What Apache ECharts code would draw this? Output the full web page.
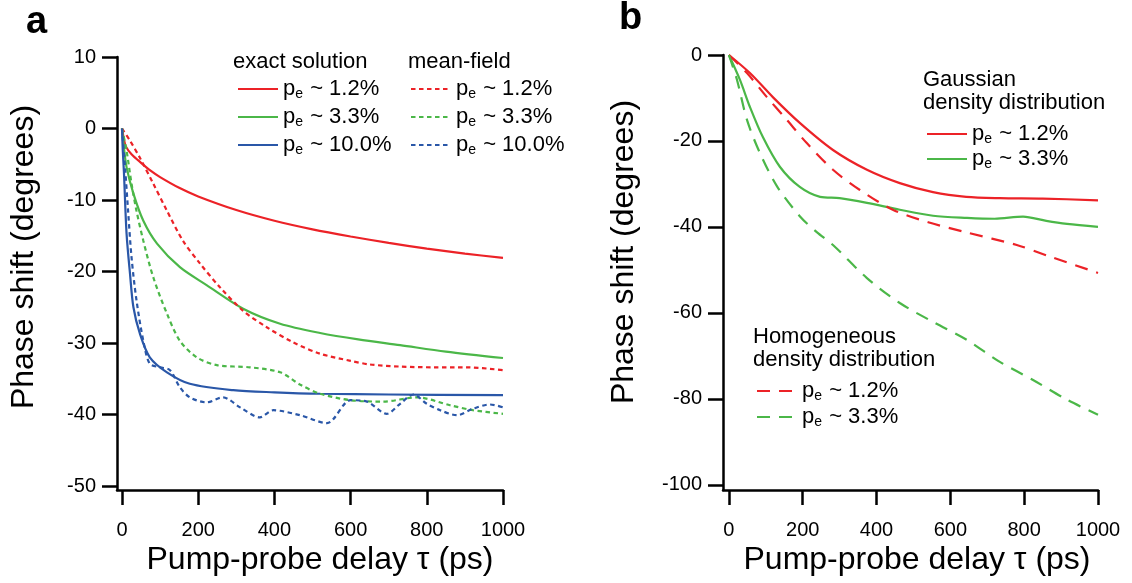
<!DOCTYPE html>
<html><head><meta charset="utf-8">
<script src="https://cdn.jsdelivr.net/npm/echarts@6/dist/echarts.min.js"></script>
<style>html,body{margin:0;padding:0;background:#fff}#c{width:1132px;height:583px}</style>
</head><body><div id="c"></div>
<script>
// ---- Panel a data (x in ps, y in degrees) ----
const aExact12X = [0, 5, 10, 25, 50, 75, 100, 150, 200, 300, 400, 500, 600, 700, 800, 900, 1000];
const aExact12Y = [0, -1.5, -2.5, -3.6, -4.8, -5.9, -6.8, -8.3, -9.5, -11.4, -12.9, -14.1, -15.1, -16.0, -16.8, -17.5, -18.1];
const aExact33X = [0, 3, 12, 30, 56, 92, 152, 222, 318, 415, 520, 620, 730, 850, 1000];
const aExact33Y = [0, -1.7, -5.4, -9.1, -12.9, -16.1, -19.4, -21.9, -25.2, -27.3, -28.6, -29.5, -30.3, -31.2, -32.1];
const aExact100X = [0, 2, 5, 12, 21, 30, 47, 73, 118, 178, 292, 400, 520, 700, 1000];
const aExact100Y = [0, -3, -6, -14.7, -20.3, -25, -28.7, -32, -34.1, -35.7, -36.6, -36.9, -37.1, -37.2, -37.3];
const aMF12X = [0, 21, 47, 82, 118, 160, 205, 257, 318, 380, 449, 520, 600, 650, 730, 820, 905, 1000];
const aMF12Y = [0, -1.7, -4.1, -7.7, -11.5, -15.7, -18.9, -22.2, -25.5, -27.8, -29.9, -31.5, -32.5, -33.0, -33.3, -33.4, -33.4, -33.8];
const aMF33X = [0, 12, 25, 38, 56, 82, 118, 152, 196, 249, 336, 415, 467, 520, 600, 685, 774, 861, 921, 1000];
const aMF33Y = [0, -3.1, -7.7, -11.5, -15.7, -20.8, -25.9, -29.7, -32, -33.1, -33.4, -34.1, -35.8, -37.1, -38, -38.2, -37.6, -38.7, -39.4, -39.9];
const aMF100X = [0, 8, 16, 25, 38, 56, 73, 100, 126, 152, 178, 222, 265, 310, 362, 397, 467, 538, 600, 643, 695, 730, 765, 800, 835, 879, 921, 966, 1000];
const aMF100Y = [0, -5.4, -11.5, -18, -24, -29.7, -32.9, -33.4, -33.8, -36.2, -37.6, -38.3, -37.6, -39, -40.4, -39.4, -40.1, -41.2, -38, -38.2, -39.9, -38.5, -37.2, -38.5, -39.4, -40.1, -39.2, -38.6, -39.0];

// ---- Panel b data ----
const bGauss12X = [0, 57, 119, 192, 282, 374, 463, 553, 643, 734, 850, 1000];
const bGauss12Y = [0, -4.2, -9.8, -15.8, -22.1, -26.7, -29.8, -31.9, -33.0, -33.3, -33.4, -33.8];
const bGauss33X = [0, 30, 57, 92, 138, 192, 247, 300, 374, 463, 553, 645, 720, 797, 860, 916, 1000];
const bGauss33Y = [0, -5.8, -12.1, -19.1, -26, -30.7, -33, -33.3, -34.4, -36, -37.4, -37.9, -38.1, -37.6, -38.6, -39.3, -40];
const bHomo12X = [0, 49, 103, 157, 211, 282, 355, 444, 540, 645, 780, 870, 1000];
const bHomo12Y = [0, -4.2, -9.8, -15.1, -20.5, -26.7, -31.4, -36, -38.9, -41.3, -44.2, -46.9, -50.7];
const bHomo33X = [0, 22, 49, 84, 130, 192, 238, 282, 374, 463, 553, 645, 734, 824, 916, 1000];
const bHomo33Y = [0, -5.8, -15.1, -22.8, -30.5, -37.5, -41.2, -44.2, -51.9, -57.7, -62.1, -66.3, -71.4, -75.6, -80.2, -83.7];

// ---- ticks / labels ----
const xTicks = [0, 200, 400, 600, 800, 1000];
const aYTicks = [10, 0, -10, -20, -30, -40, -50];
const bYTicks = [0, -20, -40, -60, -80, -100];
const legendLabels = {
  ex12: '1.2%', ex33: '3.3%', ex100: '10.0%',
  mf12: '1.2%', mf33: '3.3%', mf100: '10.0%',
  g12: '1.2%', g33: '3.3%', h12: '1.2%', h33: '3.3%'
};
const xName = 'Pump-probe delay \u03C4 (ps)';
const yName = 'Phase shift (degrees)';

const RED = '#ec2227', GREEN = '#4bb748', BLUE = '#2a57a8';
const FONT = 'Liberation Sans, Arial, Helvetica, sans-serif';
const zip = (xs, ys) => xs.map((x, i) => [x, ys[i]]);

function xAxisDef(gi, min) {
  return {
    gridIndex: gi, type: 'value', min: min, max: 1000,
    axisLine: { show: true, onZero: false, lineStyle: { color: '#000', width: 2.5 } },
    axisTick: { show: true, length: 15, inside: false, customValues: xTicks, lineStyle: { color: '#000', width: 2.5 } },
    axisLabel: { customValues: xTicks, margin: 30, fontSize: 20, color: '#000', fontFamily: FONT, formatter: v => String(v) },
    splitLine: { show: false }
  };
}
function yAxisDef(gi, min, max, ticks) {
  return {
    gridIndex: gi, type: 'value', min: min, max: max,
    axisLine: { show: true, onZero: false, lineStyle: { color: '#000', width: 2.5 } },
    axisTick: { show: true, length: 15, customValues: ticks, lineStyle: { color: '#000', width: 2.5 } },
    axisLabel: { customValues: ticks, margin: 21, fontSize: 20, color: '#000', fontFamily: FONT, formatter: v => String(v) },
    splitLine: { show: false }
  };
}
function ser(name, xi, xs, ys, color, dash) {
  return {
    name: name, type: 'line', xAxisIndex: xi, yAxisIndex: xi,
    data: zip(xs, ys), smooth: 0.3, symbol: 'none', showSymbol: false,
    lineStyle: { color: color, width: 2.2, type: dash || 'solid' },
    itemStyle: { color: color }, silent: true
  };
}
const richSub = (lh) => ({
  p: { fontSize: 22, lineHeight: lh, verticalAlign: 'middle', color: '#000', fontFamily: FONT },
  e: { fontSize: 14, lineHeight: lh, verticalAlign: 'bottom', color: '#000', fontFamily: FONT, padding: [0, 1, 0, 0] },
  t: { fontSize: 22, lineHeight: lh, verticalAlign: 'middle', color: '#000', fontFamily: FONT }
});
function legendDef(names, left, top, gap) {
  return {
    data: names, left: left, top: top, orient: 'vertical', padding: 0,
    itemWidth: 40, itemHeight: 14, itemGap: gap, selectedMode: false,
    itemStyle: { opacity: 0 },
    formatter: n => '{p|p}{e|e}{t| ~ ' + legendLabels[n] + '}',
    textStyle: { rich: richSub(24) }
  };
}
const DOT = [4.5, 3.5], DASH = [13, 9];
const T = (x, y, text, size) => ({ type: 'text', x: x, y: y, style: { text: text, font: size + 'px ' + FONT, fill: '#000', textVerticalAlign: 'middle' } });

const option = {
  animation: false,
  backgroundColor: '#fff',
  grid: [
    { left: 117, top: 57, width: 386, height: 433 },
    { left: 723, top: 55, width: 375, height: 435 }
  ],
  xAxis: [xAxisDef(0, -13.1), xAxisDef(1, -16)],
  yAxis: [yAxisDef(0, -50.56, 10, aYTicks), yAxisDef(1, -101.2, 0, bYTicks)],
  legend: [
    legendDef(['ex12', 'ex33', 'ex100'], 237, 78, 5),
    legendDef(['mf12', 'mf33', 'mf100'], 410, 78, 5),
    legendDef(['g12', 'g33'], 926, 123, 2),
    legendDef(['h12', 'h33'], 756, 380, 3)
  ],
  series: [
    ser('ex12', 0, aExact12X, aExact12Y, RED),
    ser('ex33', 0, aExact33X, aExact33Y, GREEN),
    ser('ex100', 0, aExact100X, aExact100Y, BLUE),
    ser('mf12', 0, aMF12X, aMF12Y, RED, DOT),
    ser('mf33', 0, aMF33X, aMF33Y, GREEN, DOT),
    ser('mf100', 0, aMF100X, aMF100Y, BLUE, DOT),
    ser('g12', 1, bGauss12X, bGauss12Y, RED),
    ser('g33', 1, bGauss33X, bGauss33Y, GREEN),
    ser('h12', 1, bHomo12X, bHomo12Y, RED, DASH),
    ser('h33', 1, bHomo33X, bHomo33Y, GREEN, DASH)
  ],
  graphic: [
    { type: 'text', left: 26, top: 4, style: { text: 'a', font: 'bold 38px ' + FONT, fill: '#000' } },
    { type: 'text', left: 619, top: 0, style: { text: 'b', font: 'bold 38px ' + FONT, fill: '#000' } },
    { type: 'text', x: 24, y: 257, rotation: Math.PI / 2, style: { text: yName, font: '32px ' + FONT, fill: '#000', textAlign: 'center', textVerticalAlign: 'middle' } },
    { type: 'text', x: 624, y: 252, rotation: Math.PI / 2, style: { text: yName, font: '32px ' + FONT, fill: '#000', textAlign: 'center', textVerticalAlign: 'middle' } },
    { type: 'text', x: 320, y: 560, style: { text: xName, font: '32px ' + FONT, fill: '#000', textAlign: 'center', textVerticalAlign: 'middle' } },
    { type: 'text', x: 917, y: 560, style: { text: xName, font: '32px ' + FONT, fill: '#000', textAlign: 'center', textVerticalAlign: 'middle' } },
    T(233, 62, 'exact solution', 22),
    T(408, 62, 'mean-field', 22),
    T(923, 80, 'Gaussian', 22),
    T(923, 103, 'density distribution', 22),
    T(753, 337, 'Homogeneous', 22),
    T(753, 360, 'density distribution', 22)
  ]
};
echarts.init(document.getElementById('c'), null, { renderer: 'canvas' }).setOption(option);
</script>
</body></html>
